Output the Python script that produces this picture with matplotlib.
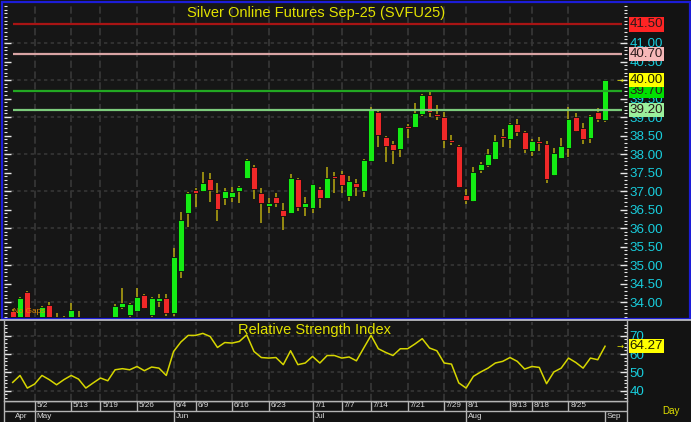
import matplotlib
matplotlib.use('Agg')
import matplotlib.pyplot as plt
from matplotlib import font_manager
from matplotlib.ticker import MultipleLocator, FixedLocator, FormatStrFormatter
from matplotlib.patches import Rectangle
from matplotlib.lines import Line2D
import numpy as np

# ---------------- data ----------------
opens = [33.77, 33.40, 34.26, 33.50, 33.20, 33.92, 33.30, 33.50, 33.10, 33.60,
         33.30, 33.00, 33.20, 33.40, 33.30, 33.87, 33.64, 33.77, 34.19, 33.65,
         34.04, 34.12, 33.69, 34.84, 36.41, 37.03, 37.00, 37.32, 36.95, 36.82,
         36.85, 37.01, 37.36, 37.64, 36.95, 36.59, 36.83, 36.50, 36.41, 37.32,
         36.58, 36.53, 37.05, 36.82, 37.40, 37.46, 36.86, 37.22, 37.01, 37.82,
         39.14, 38.45, 38.27, 38.13, 38.76, 38.74, 39.08, 39.59, 39.08, 38.99,
         38.37, 38.22, 36.89, 36.74, 37.57, 37.69, 37.86, 38.49, 38.41, 38.81,
         38.59, 38.07, 38.36, 38.27, 37.43, 37.90, 38.17, 39.01, 38.71, 38.44,
         39.13, 38.92]
highs = [33.80, 34.14, 34.29, 33.60, 33.88, 34.00, 33.71, 33.62, 33.98, 33.76,
         33.45, 33.30, 33.50, 33.60, 33.95, 34.37, 33.97, 34.37, 34.22, 34.14,
         34.22, 34.22, 35.45, 36.44, 36.97, 37.09, 37.52, 37.48, 37.22, 37.07,
         37.12, 37.14, 37.86, 37.70, 37.07, 36.80, 36.94, 36.68, 37.45, 37.34,
         36.83, 37.20, 37.12, 37.64, 37.52, 37.54, 37.41, 37.32, 37.86, 39.26,
         39.18, 38.48, 38.36, 38.74, 38.81, 39.39, 39.62, 39.73, 39.32, 39.14,
         38.51, 38.24, 37.05, 37.66, 37.78, 38.14, 38.51, 38.68, 38.85, 38.94,
         38.62, 38.40, 38.47, 38.36, 38.17, 38.42, 39.26, 39.12, 38.85, 39.06,
         39.23, 40.00]
lows = [33.20, 33.30, 33.40, 33.00, 33.10, 33.20, 33.10, 33.00, 33.00, 33.20,
        32.90, 32.80, 33.00, 33.10, 33.20, 33.80, 33.55, 33.72, 33.80, 33.60,
        33.87, 33.62, 33.63, 34.64, 36.02, 36.58, 36.98, 36.71, 36.20, 36.62,
        36.71, 36.68, 37.32, 36.78, 36.13, 36.41, 36.58, 35.95, 36.40, 36.47,
        36.32, 36.41, 36.53, 36.80, 36.94, 36.95, 36.74, 36.86, 36.85, 37.79,
        38.20, 37.79, 37.72, 37.91, 38.44, 38.72, 39.04, 38.99, 38.92, 38.15,
        38.24, 37.07, 36.64, 36.71, 37.49, 37.66, 37.84, 38.20, 38.15, 38.49,
        38.04, 37.95, 38.09, 37.21, 37.40, 37.88, 37.93, 38.59, 38.27, 38.31,
        38.87, 38.87]
closes = [33.40, 34.12, 33.50, 33.20, 33.86, 33.30, 33.55, 33.10, 33.78, 33.30,
          33.00, 33.20, 33.40, 33.30, 33.89, 33.97, 33.95, 34.13, 33.85, 34.12,
          34.10, 33.69, 35.21, 36.22, 36.95, 36.95, 37.22, 37.03, 36.51, 37.00,
          36.98, 37.12, 37.84, 37.05, 36.67, 36.68, 36.68, 36.32, 37.34, 36.58,
          36.68, 37.18, 36.82, 37.34, 37.36, 37.16, 37.27, 37.12, 37.84, 39.21,
          38.51, 38.22, 38.11, 38.72, 38.71, 39.10, 39.59, 39.13, 39.04, 38.38,
          38.33, 37.12, 36.76, 37.52, 37.72, 38.00, 38.36, 38.44, 38.81, 38.59,
          38.14, 38.36, 38.31, 37.32, 38.02, 38.22, 38.94, 38.63, 38.40, 39.04,
          38.94, 40.00]
rsi = [44.5, 48.3, 41.4, 43.6, 48.3, 46.0, 43.2, 46.0, 48.3, 46.3,
       41.4, 44.2, 46.9, 45.4, 51.4, 52.0, 51.4, 53.2, 50.9, 52.9,
       52.3, 48.3, 61.4, 66.6, 70.2, 70.2, 71.3, 69.6, 63.6, 66.3,
       66.0, 66.9, 70.5, 61.4, 58.1, 57.8, 58.1, 54.2, 61.8, 54.2,
       55.1, 58.7, 55.1, 59.2, 59.2, 57.8, 58.4, 56.3, 63.3, 70.2,
       62.9, 60.9, 59.2, 62.9, 62.9, 65.5, 68.4, 63.3, 61.8, 55.1,
       54.5, 44.2, 41.4, 47.8, 50.2, 52.3, 55.1, 56.0, 58.1, 56.0,
       51.8, 53.2, 52.7, 43.8, 50.2, 52.3, 57.8, 55.4, 52.3, 57.8,
       56.9, 64.27]
date_ticks = [3, 8, 12, 17, 22, 25, 30, 35, 41, 45, 49, 54, 59, 62, 68, 71, 76]
date_labels = ['5/2', '5/13', '5/19', '5/26', '6/4', '6/9', '6/16', '6/23', '7/1',
               '7/7', '7/14', '7/21', '7/29', '8/1', '8/13', '8/18', '8/25']
month_ticks = [0, 3, 22, 41, 62, 81]
month_labels = ['Apr', 'May', 'Jun', 'Jul', 'Aug', 'Sep']
levels = [41.50, 40.70, 39.70, 39.20]
level_colors = ['#a81414', '#d8a4a4', '#22a822', '#7ccc7c']
level_box_colors = ['#ff2424', '#f6b8b8', '#00e000', '#9cf09c']
last_price = 40.00
last_rsi = 64.27
title = 'Silver Online Futures Sep-25 (SVFU25)'
rsi_title = 'Relative Strength Index'

# ---------------- style ----------------
names = {f.name for f in font_manager.fontManager.ttflist}
if 'Liberation Sans Narrow' in names:
    FONT, SC = 'Liberation Sans Narrow', 1.0
else:
    FONT, SC = 'Liberation Sans', 0.84
plt.rcParams['font.family'] = [FONT, 'DejaVu Sans']

BG = '#161616'
GREEN = '#14ec14'
RED = '#f02828'
WICK = '#b8aa10'
CYAN = '#18cedd'
YELLOW = '#e2e200'
GRID = '#363636'
BLUE = '#1c1cd8'
LINE = '#b4b4b4'

W, H = 691, 422
fig = plt.figure(figsize=(W / 100, H / 100), dpi=100)
fig.patch.set_facecolor('#131313')


def rect(x0, y0, x1, y1):
    return [x0 / W, 1 - y1 / H, (x1 - x0) / W, (y1 - y0) / H]


SP, X0 = 7.313, 12.7
XL = ((4 - X0) / SP, (627 - X0) / SP)
idx = np.arange(len(opens))
o = np.array(opens); c = np.array(closes)
h = np.array(highs); l = np.array(lows)

# ---------------- main price panel ----------------
ax = fig.add_axes(rect(4, 3, 627, 317))
ax.set_facecolor(BG)
ax.set_xlim(*XL)
ax.set_ylim(33.595, 42.081)
ax.hlines(np.arange(34, 42), XL[0], XL[1], colors=GRID, linestyles=(0, (2, 2)), lw=1.2, zorder=1)
ax.vlines(date_ticks, 33.595, 42.081, colors=GRID, linestyles=(0, (4, 2)), lw=1.3, zorder=1)

up = c >= o
cols = np.where(up, GREEN, RED)
ax.vlines(idx, l, h, colors=WICK, lw=1.1, zorder=3)
ax.bar(idx, np.maximum(np.abs(c - o), 0.05), bottom=np.minimum(o, c), width=0.8,
       color=cols, edgecolor='#0c0c0c', linewidth=0.6, zorder=4)

for lv, lc in zip(levels, level_colors):
    ax.hlines(lv, 0, (622 - X0) / SP, colors=lc, lw=1.6, zorder=5)

ax.set_xticks([])
ax.yaxis.set_major_locator(FixedLocator(np.arange(34, 41.01, 0.5)))
ax.yaxis.set_minor_locator(MultipleLocator(0.1))
ax.yaxis.set_major_formatter(FormatStrFormatter('%.2f'))
ax.tick_params(axis='y', which='both', left=True, right=True, labelleft=False,
               labelright=True, direction='in', color='#e8e8e8', labelcolor=CYAN)
ax.tick_params(axis='y', which='major', length=5, width=1, labelsize=11.5 * SC, pad=2)
ax.tick_params(axis='y', which='minor', length=2.5, width=0.8)
for s in ax.spines.values():
    s.set_visible(False)

ytr = ax.get_yaxis_transform()
for lv, bc in zip(levels, level_box_colors):
    ax.text(1.0045, lv, f'{lv:.2f}', transform=ytr, ha='left', va='center',
            fontsize=11.5 * SC, color='#2a1a1a', zorder=10, clip_on=False,
            bbox=dict(boxstyle='square,pad=0.08', fc=bc, ec='none'))
ax.text(1.0045, last_price, f'{last_price:.2f}', transform=ytr, ha='left', va='center',
        fontsize=11.5 * SC, color='#202000', zorder=10, clip_on=False,
        bbox=dict(boxstyle='square,pad=0.08', fc='#ffff00', ec='none'))
ax.text(0.989, last_price, '\u2192', transform=ytr, ha='center', va='center',
        fontsize=6, color=YELLOW, family='DejaVu Sans', zorder=10, clip_on=False)

ax.text(0.0145, 0.017, 'No Gaps', transform=ax.transAxes, ha='left', va='center',
        fontsize=7 * SC, color='#e08a00', zorder=8)
fig.text(316.5 / W, 1 - 13.5 / H, title, ha='center', va='center',
         fontsize=12.5 * SC, color=YELLOW)

# ---------------- RSI panel ----------------
rax = fig.add_axes(rect(4, 321.5, 627, 400.5))
rax.set_facecolor(BG)
rax.set_xlim(*XL)
rax.set_ylim(34.6, 77.8)
rax.hlines([40, 50, 60, 70], XL[0], XL[1], colors=GRID, linestyles=(0, (2, 2)), lw=1.2, zorder=1)
rax.vlines(date_ticks, 34.6, 77.8, colors=GRID, linestyles=(0, (4, 2)), lw=1.3, zorder=1)
rax.plot(idx, rsi, color='#d6d600', lw=1.1, zorder=3)
rax.set_xticks([])
rax.yaxis.set_major_locator(FixedLocator([40, 50, 60, 70]))
rax.yaxis.set_minor_locator(MultipleLocator(2))
rax.tick_params(axis='y', which='both', left=True, right=True, labelleft=False,
                labelright=True, direction='in', color='#e8e8e8', labelcolor=CYAN)
rax.tick_params(axis='y', which='major', length=5, width=1, labelsize=11.5 * SC, pad=2)
rax.tick_params(axis='y', which='minor', length=2.5, width=0.8)
for s in rax.spines.values():
    s.set_visible(False)
rtr = rax.get_yaxis_transform()
rax.text(1.0045, last_rsi, f'{last_rsi:.2f}', transform=rtr, ha='left', va='center',
         fontsize=11.5 * SC, color='#202000', zorder=10, clip_on=False,
         bbox=dict(boxstyle='square,pad=0.08', fc='#ffff00', ec='none'))
rax.text(0.989, last_rsi, '\u2192', transform=rtr, ha='center', va='center',
         fontsize=6, color=YELLOW, family='DejaVu Sans', zorder=10, clip_on=False)
fig.text(315 / W, 1 - 330 / H, rsi_title, ha='center', va='center',
         fontsize=12.5 * SC, color=YELLOW)

# ---------------- date axis ----------------
dax = fig.add_axes(rect(4, 400.5, 627, 421.5))
dax.set_facecolor(BG)
dax.set_xlim(*XL)
dax.set_ylim(421.5, 400.5)
dax.axis('off')
dax.hlines([401, 410.5], XL[0], XL[1], colors=LINE, lw=1.0)
dax.vlines(date_ticks, 401, 410.5, colors=LINE, lw=1.0)
dax.vlines(month_ticks[1:], 410.5, 421.5, colors=LINE, lw=1.0)
for t, lab in zip(date_ticks, date_labels):
    dax.text(t + 0.25, 405.8, lab, ha='left', va='center', fontsize=7 * SC, color='#d8d8d8')
for t, lab in zip(month_ticks, month_labels):
    dax.text(t + 0.25, 416, lab, ha='left', va='center', fontsize=7 * SC, color='#d8d8d8')
fig.text(671 / W, 1 - 411 / H, 'Day', ha='center', va='center', fontsize=8.5 * SC, color=YELLOW)

# ---------------- frame lines ----------------
fig.add_artist(Rectangle((1.5 / W, 1 - 318.5 / H), 688 / W, 317 / H, transform=fig.transFigure,
                         fill=False, ec=BLUE, lw=1.6))
fig.add_artist(Line2D([0, 1], [1 - 320 / H] * 2, transform=fig.transFigure, color='#c8c8c8', lw=1.2))
fig.add_artist(Line2D([4 / W, 4 / W], [1 - 321 / H, 1 - 421.5 / H], transform=fig.transFigure,
                      color=LINE, lw=1.0))
fig.add_artist(Line2D([627 / W, 627 / W], [1 - 321 / H, 1 - 421.5 / H], transform=fig.transFigure,
                      color=LINE, lw=1.0))
fig.add_artist(Line2D([4 / W, 627 / W], [1 - 400.8 / H] * 2, transform=fig.transFigure,
                      color=LINE, lw=1.0))

fig.savefig('out.png', dpi=100, facecolor=fig.get_facecolor())
